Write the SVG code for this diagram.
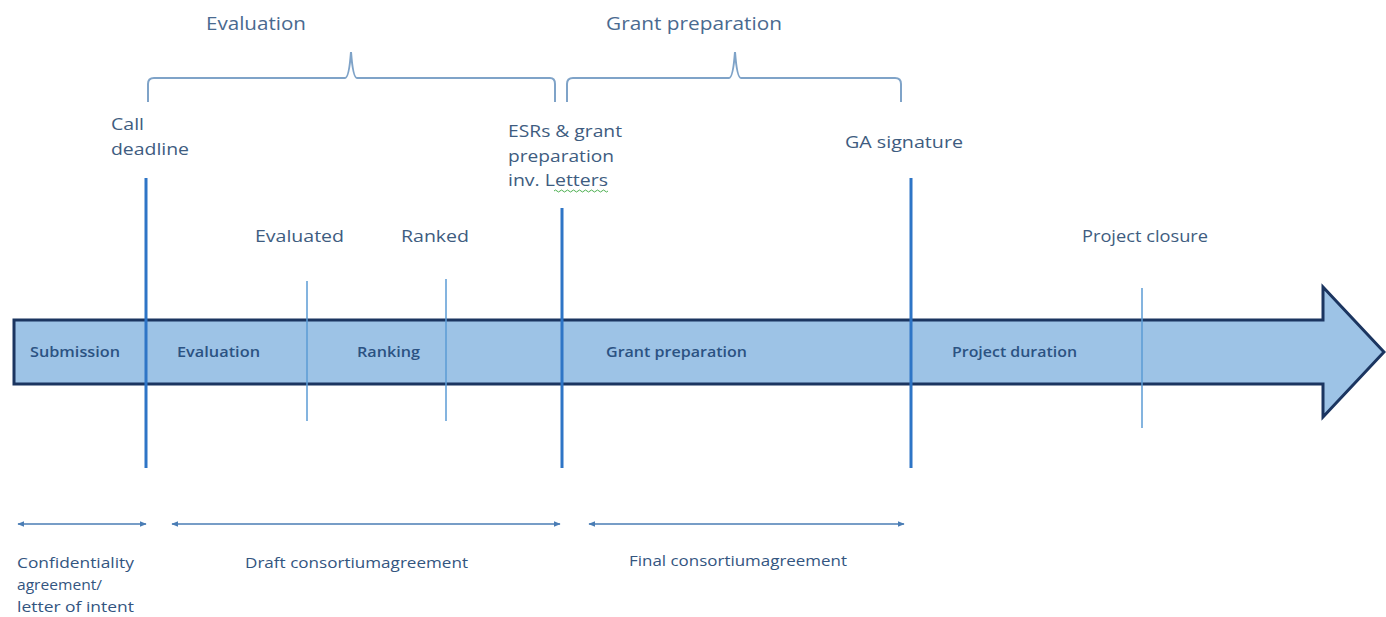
<svg xmlns="http://www.w3.org/2000/svg" width="1386" height="617" viewBox="0 0 1386 617">
<defs>
<marker id="ah" viewBox="0 0 10 10" refX="9" refY="5" markerWidth="7" markerHeight="7" orient="auto-start-reverse" markerUnits="userSpaceOnUse">
<path d="M0,1 L10,5 L0,9 z" fill="#4A7DB5"/>
</marker>
<style>
text{font-family:"Open Sans","Liberation Sans",sans-serif}
.top{font-size:19px;fill:#4A6A90}
.lbl{font-size:16px;fill:#3E5C80}
.in{font-size:14px;font-weight:600;fill:#2B5282}
.bot{font-size:14px;fill:#33557F}
.brace{fill:none;stroke:#7FA3C8;stroke-width:2}
.thick{stroke:#2E75C6;stroke-width:3}
.thin{stroke:#5B9BD5;stroke-width:1.5}
.span{stroke:#4A7DB5;stroke-width:1.5;marker-start:url(#ah);marker-end:url(#ah)}
</style>
</defs>
<rect width="1386" height="617" fill="#ffffff"/>

<g id="timeline-arrow">
<path d="M14,320 L1323,320 L1323,287 L1384,352 L1323,417 L1323,384 L14,384 Z" fill="#9DC3E6" stroke="#1B3560" stroke-width="3" stroke-linejoin="miter"/>
<text class="in" x="30" y="357" textLength="90" lengthAdjust="spacingAndGlyphs">Submission</text>
<text class="in" x="177" y="357" textLength="83" lengthAdjust="spacingAndGlyphs">Evaluation</text>
<text class="in" x="357" y="357" textLength="63" lengthAdjust="spacingAndGlyphs">Ranking</text>
<text class="in" x="606" y="357" textLength="141" lengthAdjust="spacingAndGlyphs">Grant preparation</text>
<text class="in" x="952" y="357" textLength="125" lengthAdjust="spacingAndGlyphs">Project duration</text>
</g>

<g id="connectors">
<line class="thick" x1="146" y1="178" x2="146" y2="468"/>
<line class="thick" x1="562" y1="208" x2="562" y2="468"/>
<line class="thick" x1="911" y1="178" x2="911" y2="468"/>
<line class="thin" x1="307" y1="281" x2="307" y2="421"/>
<line class="thin" x1="446" y1="279" x2="446" y2="421"/>
<line class="thin" x1="1142" y1="288" x2="1142" y2="428"/>
<line class="span" x1="18" y1="524" x2="146" y2="524"/>
<line class="span" x1="172" y1="524" x2="560" y2="524"/>
<line class="span" x1="589" y1="524" x2="904" y2="524"/>
</g>

<g id="brace-evaluation">
<path class="brace" d="M148,102 L148,84 Q148,78 154,78 L345,78 Q349,78 351,52 Q353,78 357,78 L550,78 Q555,78 555,84 L555,102"/>
<text class="top" x="206" y="30" textLength="100" lengthAdjust="spacingAndGlyphs">Evaluation</text>
</g>

<g id="brace-grant">
<path class="brace" d="M567,102 L567,84 Q567,78 573,78 L729,78 Q733,78 735,52 Q737,78 741,78 L895,78 Q901,78 901,84 L901,102"/>
<text class="top" x="606" y="30" textLength="176" lengthAdjust="spacingAndGlyphs">Grant preparation</text>
</g>

<g id="call-deadline">
<text class="lbl" x="111" y="130" textLength="33" lengthAdjust="spacingAndGlyphs">Call</text>
<text class="lbl" x="111" y="155" textLength="78" lengthAdjust="spacingAndGlyphs">deadline</text>
</g>

<g id="esrs">
<text class="lbl" x="508" y="137" textLength="114" lengthAdjust="spacingAndGlyphs">ESRs &amp; grant</text>
<text class="lbl" x="508" y="162" textLength="106" lengthAdjust="spacingAndGlyphs">preparation</text>
<text class="lbl" x="508" y="186" textLength="100" lengthAdjust="spacingAndGlyphs">inv. Letters</text>
<path d="M554,191 q1.5,-2 3,0 t3,0 t3,0 t3,0 t3,0 t3,0 t3,0 t3,0 t3,0 t3,0 t3,0 t3,0 t3,0 t3,0 t3,0 t3,0 t3,0 t3,0" fill="none" stroke="#4CAF50" stroke-width="1"/>
</g>

<g id="ga-signature">
<text class="lbl" x="845" y="148" textLength="118" lengthAdjust="spacingAndGlyphs">GA signature</text>
</g>

<g id="evaluated">
<text class="lbl" x="255" y="242" textLength="89" lengthAdjust="spacingAndGlyphs">Evaluated</text>
</g>
<g id="ranked">
<text class="lbl" x="401" y="242" textLength="68" lengthAdjust="spacingAndGlyphs">Ranked</text>
</g>
<g id="project-closure">
<text class="lbl" x="1082" y="242" textLength="126" lengthAdjust="spacingAndGlyphs">Project closure</text>
</g>

<g id="confidentiality">
<text class="bot" x="17" y="568" textLength="117" lengthAdjust="spacingAndGlyphs">Confidentiality</text>
<text class="bot" x="17" y="590" textLength="85" lengthAdjust="spacingAndGlyphs">agreement/</text>
<text class="bot" x="17" y="612" textLength="117" lengthAdjust="spacingAndGlyphs">letter of intent</text>
</g>
<g id="draft-ca">
<text class="bot" x="245" y="568" textLength="223" lengthAdjust="spacingAndGlyphs">Draft consortiumagreement</text>
</g>
<g id="final-ca">
<text class="bot" x="629" y="566" textLength="218" lengthAdjust="spacingAndGlyphs">Final consortiumagreement</text>
</g>
</svg>
